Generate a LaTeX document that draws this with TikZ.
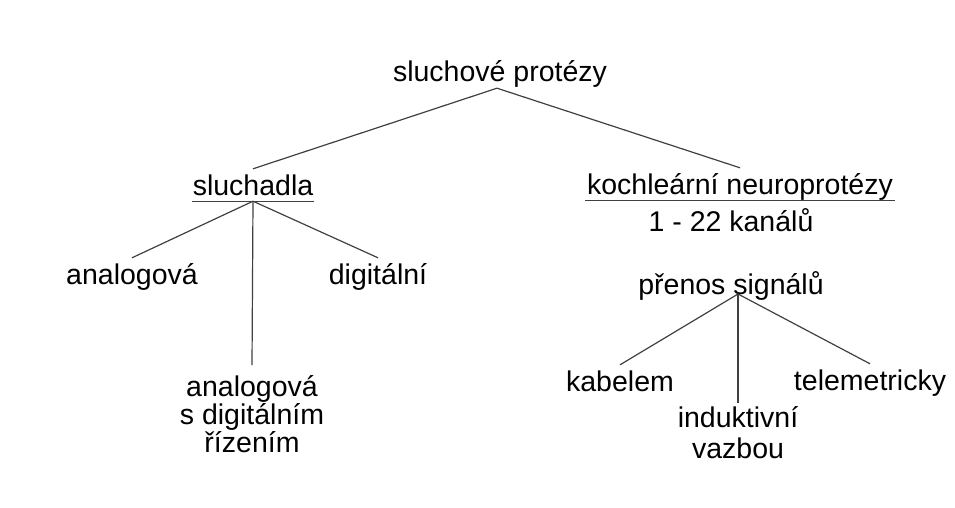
\documentclass[tikz,border=0pt]{standalone}
\usepackage{fontspec}
\setmainfont{Liberation Sans}
\begin{document}
\begin{tikzpicture}[x=1pt,y=-1pt,
  every node/.style={inner sep=0pt,font=\fontsize{28.5}{28}\selectfont},
  lbl/.style={anchor=base,text height=26pt,text depth=6pt},
  multi/.style={anchor=base,align=center},
  edge/.style={line width=1.2pt,black!75}]
\useasboundingbox (0,0) rectangle (955,508);
\node[lbl] (root) at (500,82) {sluchové protézy};
\node[lbl,inner xsep=1pt] (sluch) at (253,195) {sluchadla};
\node[lbl,inner xsep=2pt] (koch) at (740,194) {kochleární neuroprotézy};
\node[lbl] (kanaly) at (731,231) {1 - 22 kanálů};
\node[lbl] (ana) at (132,284) {analogová};
\node[lbl] (dig) at (378,284) {digitální};
\node[multi,outer ysep=10pt] (mix) at (252,452) {analogová\\s digitálním\\řízením};
\node[lbl] (pren) at (731,294) {přenos signálů};
\node[lbl] (kab) at (620,391) {kabelem};
\node[multi,outer ysep=3pt] (ind) at (738,458) {induktivní\\[3pt]vazbou};
\node[lbl] (tel) at (870,390) {telemetricky};
\draw[edge] ([xshift=-3pt]root.south) -- (sluch.north);
\draw[edge] ([xshift=-3pt]root.south) -- (koch.north);
\draw[edge] (sluch.south west) -- (sluch.south east);
\draw[edge] (koch.south west) -- (koch.south east);
\draw[edge] (sluch.south) -- (ana.north);
\draw[edge] (sluch.south) -- (mix.north);
\draw[edge] (sluch.south) -- (dig.north);
\draw[edge] ([xshift=7pt]pren.base) -- (kab.north);
\draw[edge] ([xshift=7pt]pren.base) -- (ind.north);
\draw[edge] ([xshift=7pt]pren.base) -- (tel.north);
\end{tikzpicture}
\end{document}
